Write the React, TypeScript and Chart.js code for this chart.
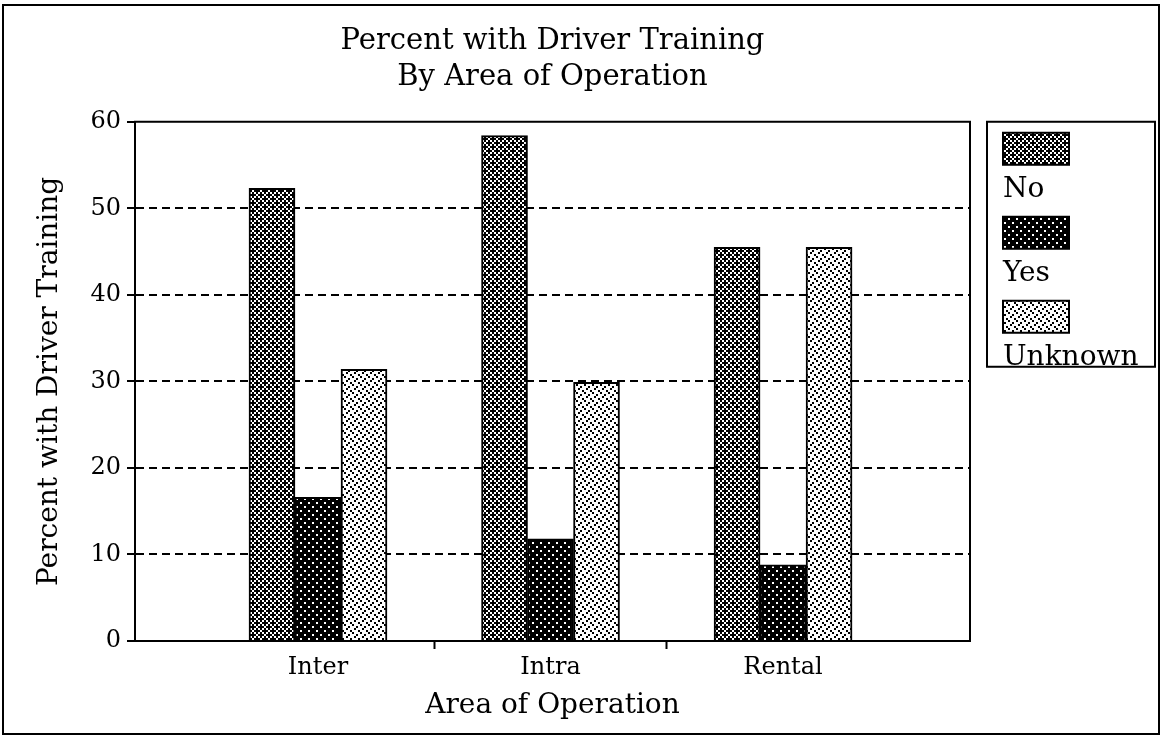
import React, { useEffect, useRef } from "react";
import { Chart, registerables } from "chart.js";

Chart.register(...registerables);

const titleLines = ["Percent with Driver Training", "By Area of Operation"];
const categories = ["Inter", "Intra", "Rental"];
const seriesLabels = ["No", "Yes", "Unknown"];
const noValues = [52.3, 58.4, 45.5];
const yesValues = [16.6, 11.8, 8.8];
const unknownValues = [31.4, 29.9, 45.5];
const yAxisTitle = "Percent with Driver Training";
const xAxisTitle = "Area of Operation";
const yMin = 0;
const yMax = 60;
const yStep = 10;

const FONT = "'DejaVu Serif', serif";

const patternRows: string[][] = [
  ["#.#.", ".###", "#.#.", "##.#"],
  ["####", ".###", "####", "##.#"],
  ["#...", "..#.", ".#..", "...#"],
];

function makePattern(rows: string[], cell: number): CanvasPattern | string {
  const c = document.createElement("canvas");
  const n = rows.length;
  c.width = n * cell;
  c.height = n * cell;
  const g = c.getContext("2d");
  if (!g) return "#888";
  g.fillStyle = "#fff";
  g.fillRect(0, 0, c.width, c.height);
  g.fillStyle = "#000";
  rows.forEach((r, y) => {
    for (let x = 0; x < r.length; x++) {
      if (r[x] === "#") g.fillRect(x * cell, y * cell, cell, cell);
    }
  });
  const p = g.createPattern(c, "repeat");
  return p || "#888";
}

const framePlugin = {
  id: "frameAndLegend",
  afterDraw(chart: any) {
    const { ctx, chartArea } = chart;
    ctx.save();
    ctx.strokeStyle = "#000";
    ctx.lineWidth = 2;
    ctx.setLineDash([]);
    ctx.strokeRect(chartArea.left, chartArea.top, chartArea.right - chartArea.left, chartArea.bottom - chartArea.top);
    // outer frame
    ctx.strokeRect(3, 5, 1156, 729);
    // legend
    const lx = chartArea.right + 17;
    const ly = chartArea.top;
    const lw = 168;
    const lh = 245;
    ctx.fillStyle = "#fff";
    ctx.fillRect(lx, ly, lw, lh);
    ctx.strokeRect(lx, ly, lw, lh);
    ctx.font = `28px ${FONT}`;
    ctx.textBaseline = "middle";
    ctx.textAlign = "left";
    chart.data.datasets.forEach((ds: any, i: number) => {
      const sy = ly + 11 + i * 84;
      const sx = lx + 16;
      ctx.fillStyle = ds.backgroundColor;
      ctx.fillRect(sx, sy, 66, 32);
      ctx.lineWidth = 2;
      ctx.strokeStyle = "#000";
      ctx.strokeRect(sx, sy, 66, 32);
      ctx.fillStyle = "#000";
      ctx.fillText(ds.label, sx, sy + 57);
    });
    ctx.restore();
  },
};

export default function App() {
  const ref = useRef<HTMLCanvasElement>(null);

  useEffect(() => {
    if (!ref.current) return;
    const patterns = patternRows.map((r) => makePattern(r, 2));
    const seriesValues = [noValues, yesValues, unknownValues];
    const chart = new Chart(ref.current, {
      type: "bar",
      data: {
        datasets: seriesLabels.map((label, i) => ({
          label,
          data: seriesValues[i].map((y, x) => ({ x, y })),
          backgroundColor: patterns[i] as any,
          borderColor: "#000",
          borderWidth: 2,
          barThickness: 46,
        })),
      },
      options: {
        responsive: false,
        animation: false,
        layout: { padding: { left: 0, right: 193, top: 24, bottom: 0 } },
        plugins: {
          legend: { display: false },
          tooltip: { enabled: false },
          title: {
            display: true,
            text: titleLines,
            color: "#000",
            fullSize: false,
            font: { family: FONT, size: 29, weight: "normal", lineHeight: 1.22 },
            padding: { top: 0, bottom: 27 },
          },
        },
        scales: {
          x: {
            type: "linear",
            offset: false,
            min: -0.787,
            max: 2.804,
            afterBuildTicks: (scale: any) => {
              const t: any[] = [];
              categories.forEach((_, i) => {
                t.push({ value: i });
                if (i < categories.length - 1) t.push({ value: i + 0.5 });
              });
              scale.ticks = t;
            },
            afterFit: (scale: any) => {
              scale.height = 96;
            },
            ticks: {
              autoSkip: false,
              maxRotation: 0,
              color: "#000",
              padding: 4,
              font: { family: FONT, size: 24 },
              callback: (v: any) => (Number.isInteger(v) ? categories[v] : ""),
            },
            grid: {
              display: true,
              offset: false,
              drawOnChartArea: false,
              drawTicks: true,
              tickLength: 8,
              tickWidth: 2,
              tickColor: (ctx: any) => (Number.isInteger(ctx.tick?.value) ? "rgba(0,0,0,0)" : "#000"),
            },
            border: { display: true, color: "#000", width: 2 },
            title: {
              display: true,
              text: xAxisTitle,
              color: "#000",
              font: { family: FONT, size: 28 },
              padding: { top: 0, bottom: 14 },
            },
          },
          y: {
            min: yMin,
            max: yMax,
            afterFit: (scale: any) => {
              scale.width = 135;
            },
            ticks: {
              stepSize: yStep,
              color: "#000",
              padding: 6,
              font: { family: FONT, size: 24 },
            },
            grid: {
              color: (ctx: any) => {
                const v = ctx.tick?.value;
                return v === yMin || v === yMax ? "rgba(0,0,0,0)" : "#000";
              },
              lineWidth: 2,
              tickBorderDash: [],
              tickColor: "#000",
              tickWidth: 2,
              tickLength: 8,
            },
            border: { display: true, color: "#000", width: 2, dash: [8, 5] },
            title: {
              display: true,
              text: yAxisTitle,
              color: "#000",
              font: { family: FONT, size: 28 },
              padding: { top: 33, bottom: 0 },
            },
          },
        },
      },
      plugins: [framePlugin],
    });
    return () => chart.destroy();
  }, []);

  return (
    <canvas
      ref={ref}
      width={1163}
      height={737}
      style={{ position: "fixed", left: 0, top: 0, display: "block", background: "#fff" }}
    />
  );
}
